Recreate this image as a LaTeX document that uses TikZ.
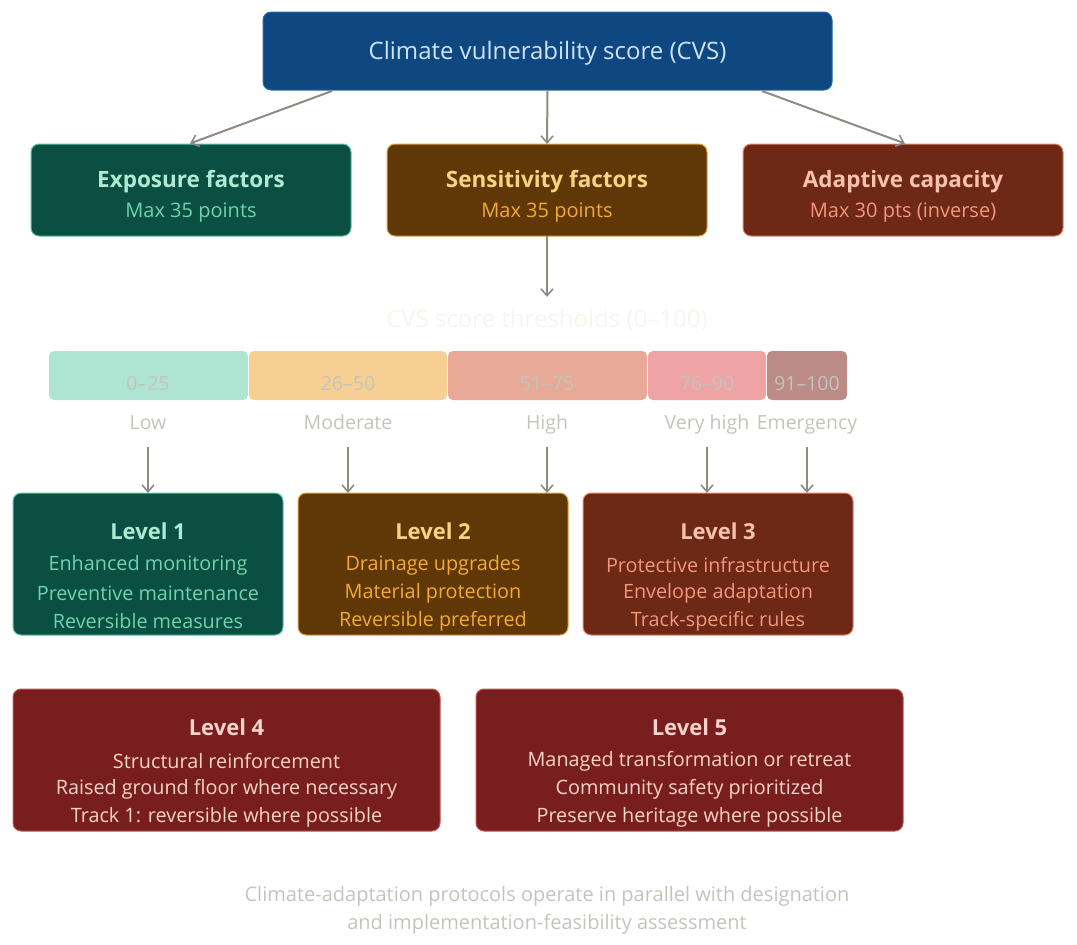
\documentclass[tikz,border=0pt]{standalone}
\usepackage{fontspec}
\setmainfont{Open Sans}
\usetikzlibrary{arrows.meta}
\definecolor{topfill}{HTML}{0F4780}
\definecolor{topline}{HTML}{2A6AAA}
\definecolor{toptext}{HTML}{CFE4F7}
\definecolor{gfill}{HTML}{0A4F41}
\definecolor{gline}{HTML}{5CC6A6}
\definecolor{gtitle}{HTML}{B0EAD4}
\definecolor{gtext}{HTML}{6ED3B0}
\definecolor{ofill}{HTML}{603807}
\definecolor{oline}{HTML}{E2A33A}
\definecolor{otitle}{HTML}{F9D283}
\definecolor{otext}{HTML}{F2AA33}
\definecolor{rfill}{HTML}{6D2816}
\definecolor{rline}{HTML}{E2866C}
\definecolor{rtitle}{HTML}{F9C2AE}
\definecolor{rtext}{HTML}{F29680}
\definecolor{dfill}{HTML}{781E1F}
\definecolor{dline}{HTML}{C25455}
\definecolor{dtext}{HTML}{F8D3CA}
\definecolor{arr}{HTML}{8C8C84}
\definecolor{faint}{HTML}{C4C4BC}
\definecolor{faint2}{HTML}{F6F6EE}
\definecolor{b1}{HTML}{AEE4D2}
\definecolor{b2}{HTML}{F7CF93}
\definecolor{b3}{HTML}{E8AA96}
\definecolor{b4}{HTML}{F0A3A5}
\definecolor{b5}{HTML}{BC8B87}
\tikzset{
  x=1pt,y=-1pt,
  boxstyle/.style={rounded corners=8pt,line width=1pt,inner sep=0pt,outer sep=0pt},
  conn/.style={draw=arr,line width=2pt,-{Straight Barb[length=7pt,width=12pt,line width=1.6pt]}},
  barlbl/.style={text=faint,font=\fontsize{19.5}{22}\selectfont,anchor=base},
  boxtitle/.style={font=\bfseries\fontsize{22.5}{26}\selectfont},
  boxsub/.style={font=\fontsize{20}{23}\selectfont},
  lvtitle/.style={font=\bfseries\fontsize{22}{26}\selectfont},
  lvline/.style={font=\fontsize{19.8}{23}\selectfont},
  segment/.style={rounded corners=5pt,minimum height=49pt,inner sep=0pt},
}
\begin{document}
\begin{tikzpicture}
\useasboundingbox (0,0) rectangle (1077,945);
% top
\node[boxstyle,fill=topfill,draw=topline,minimum width=569pt,minimum height=78pt] (top) at (547.5,51) {};
\node[text=toptext,font=\fontsize{24}{28}\selectfont] (toptxt) at (547.5,53) {Climate vulnerability score (CVS)};
% row 2
\node[boxstyle,fill=gfill,draw=gline,minimum width=320pt,minimum height=92pt] (exp) at (191,190) {};
\node[boxstyle,fill=ofill,draw=oline,minimum width=320pt,minimum height=92pt] (sen) at (547,190) {};
\node[boxstyle,fill=rfill,draw=rline,minimum width=320pt,minimum height=92pt] (ada) at (903,190) {};
\node[boxtitle,text=gtitle] (expt) at (191,182) {Exposure factors};
\node[boxsub,text=gtext] (exps) at (191,213) {Max 35 points};
\node[boxtitle,text=otitle] (sent) at (547,182) {Sensitivity factors};
\node[boxsub,text=otext] (sens) at (547,213) {Max 35 points};
\node[boxtitle,text=rtitle] (adat) at (903,182) {Adaptive capacity};
\node[boxsub,text=rtext] (adas) at (903,213) {Max 30 pts (inverse)};
\coordinate (t1) at (332,91);
\coordinate (t3) at (762,91);
\coordinate (e1) at (190,143.5);
\coordinate (e3) at (905,143.5);
\draw[conn] (t1) -- (e1);
\draw[conn] (top.south) -- (sen.north);
\draw[conn] (t3) -- (e3);
% thresholds
\node[text=faint2,font=\fontsize{24}{28}\selectfont] (thr) at (547,320) {CVS score thresholds (0–100)};
\coordinate (thrtop) at (547,297);
\draw[conn] (sen.south) -- (thrtop);
\node[segment,fill=b1,minimum width=199pt] (s1) at (148.5,375.5) {};
\node[segment,fill=b2,minimum width=198pt] (s2) at (348,375.5) {};
\node[segment,fill=b3,minimum width=199pt] (s3) at (547.5,375.5) {};
\node[segment,fill=b4,minimum width=118pt] (s4) at (707,375.5) {};
\node[segment,fill=b5,minimum width=80pt] (s5) at (807,375.5) {};
\node[barlbl] (n1) at (148,390) {0–25};
\node[barlbl] (n2) at (348,390) {26–50};
\node[barlbl] (n3) at (547,390) {51–75};
\node[barlbl] (n4) at (707,390) {76–90};
\node[barlbl] (n5) at (807,390) {91–100};
\node[barlbl] (l1) at (148,429) {Low};
\node[barlbl] (l2) at (348,429) {Moderate};
\node[barlbl] (l3) at (547,429) {High};
\node[barlbl] (l4) at (707,429) {Very high};
\node[barlbl] (l5) at (807,429) {Emergency};
% level boxes
\node[boxstyle,fill=gfill,draw=gline,minimum width=270pt,minimum height=142pt] (lv1) at (148,564) {};
\node[boxstyle,fill=ofill,draw=oline,minimum width=270pt,minimum height=142pt] (lv2) at (433,564) {};
\node[boxstyle,fill=rfill,draw=rline,minimum width=270pt,minimum height=142pt] (lv3) at (718,564) {};
\node[boxstyle,fill=dfill,draw=dline,minimum width=427pt,minimum height=142pt] (lv4) at (226.5,760) {};
\node[boxstyle,fill=dfill,draw=dline,minimum width=427pt,minimum height=142pt] (lv5) at (689.5,760) {};
\coordinate (a1) at (148,447);
\coordinate (a2) at (348,447);
\coordinate (a3) at (547,447);
\coordinate (a4) at (707,447);
\coordinate (a5) at (807,447);
\coordinate (b1e) at (148,493);
\coordinate (b2e) at (348,493);
\coordinate (b3e) at (547,493);
\coordinate (b4e) at (707,493);
\coordinate (b5e) at (807,493);
\draw[conn] (a1) -- (b1e);
\draw[conn] (a2) -- (b2e);
\draw[conn] (a3) -- (b3e);
\draw[conn] (a4) -- (b4e);
\draw[conn] (a5) -- (b5e);
% level texts
\node[lvtitle,text=gtitle] (h1) at (148,531) {Level 1};
\node[lvline,text=gtext] (p11) at (148,565) {Enhanced monitoring};
\node[lvline,text=gtext] (p12) at (148,593) {Preventive maintenance};
\node[lvline,text=gtext] (p13) at (148,621) {Reversible measures};
\node[lvtitle,text=otitle] (h2) at (433,531) {Level 2};
\node[lvline,text=otext] (p21) at (433,565) {Drainage upgrades};
\node[lvline,text=otext] (p22) at (433,593) {Material protection};
\node[lvline,text=otext] (p23) at (433,621) {Reversible preferred};
\node[lvtitle,text=rtitle] (h3) at (718,531) {Level 3};
\node[lvline,text=rtext] (p31) at (718,565) {Protective infrastructure};
\node[lvline,text=rtext] (p32) at (718,593) {Envelope adaptation};
\node[lvline,text=rtext] (p33) at (718,621) {Track-specific rules};
\node[lvtitle,text=dtext] (h4) at (226.5,727) {Level 4};
\node[lvline,text=dtext] (p41) at (226.5,761) {Structural reinforcement};
\node[lvline,text=dtext] (p42) at (226.5,789) {Raised ground floor where necessary};
\node[lvline,text=dtext] (p43) at (226.5,817) {Track 1: reversible where possible};
\node[lvtitle,text=dtext] (h5) at (689.5,727) {Level 5};
\node[lvline,text=dtext] (p51) at (689.5,761) {Managed transformation or retreat};
\node[lvline,text=dtext] (p52) at (689.5,789) {Community safety prioritized};
\node[lvline,text=dtext] (p53) at (689.5,817) {Preserve heritage where possible};
% footer
\node[text=faint,font=\fontsize{20}{23}\selectfont] (f1) at (547,896) {Climate-adaptation protocols operate in parallel with designation};
\node[text=faint,font=\fontsize{20}{23}\selectfont] (f2) at (547,924) {and implementation-feasibility assessment};
\end{tikzpicture}
\end{document}
